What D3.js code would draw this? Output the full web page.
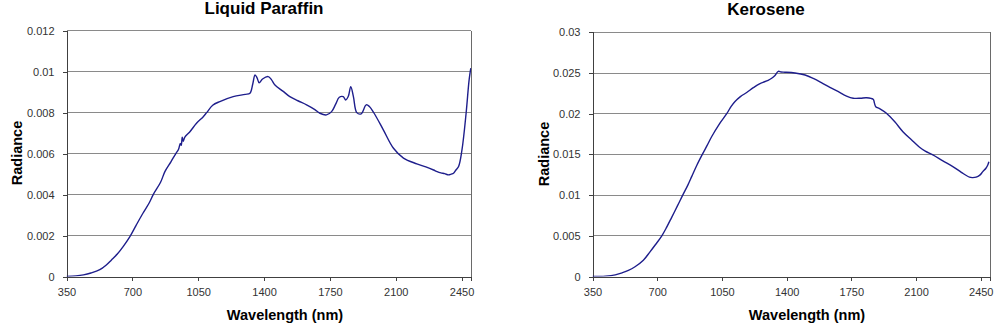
<!DOCTYPE html>
<html>
<head>
<meta charset="utf-8">
<script src="https://cdn.jsdelivr.net/npm/d3@7"></script>
<style>
  html, body { margin: 0; padding: 0; background: #fff; }
  svg { display: block; font-family: Arial, "Liberation Sans", sans-serif; }
</style>
</head>
<body>
<svg id="chart" width="1000" height="327"></svg>
<script>
// ---------- DATA ----------
const xTicks = [350, 700, 1050, 1400, 1750, 2100, 2450];

const paraffinTitle = "Liquid Paraffin";
const paraffinYTicks = [0, 0.002, 0.004, 0.006, 0.008, 0.01, 0.012];
const paraffinWavelength = [350, 400, 440, 480, 527, 560, 589, 620, 650, 687, 720, 757, 790, 811, 850, 873, 905, 931, 945, 955, 960, 965, 970, 979, 1006, 1041, 1077, 1095, 1127, 1165, 1236, 1300, 1325, 1340, 1352, 1363, 1374, 1392, 1422, 1440, 1458, 1500, 1537, 1580, 1626, 1670, 1697, 1732, 1759, 1780, 1800, 1821, 1834, 1848, 1861, 1875, 1893, 1916, 1943, 1960, 1985, 2034, 2088, 2141, 2212, 2260, 2301, 2320, 2340, 2360, 2381, 2395, 2407, 2420, 2434, 2452, 2474, 2490, 2499];
const paraffinRadiance = [0, 0.00003, 0.00008, 0.00017, 0.00033, 0.00055, 0.00081, 0.0011, 0.00145, 0.00195, 0.0025, 0.0031, 0.0036, 0.0040, 0.0046, 0.00512, 0.0056, 0.0060, 0.0062, 0.0065, 0.0064, 0.0068, 0.0066, 0.0068, 0.00707, 0.00748, 0.0078, 0.0080, 0.00836, 0.00854, 0.00878, 0.00889, 0.00895, 0.0094, 0.00984, 0.0097, 0.00946, 0.00964, 0.00976, 0.0096, 0.00935, 0.00905, 0.00878, 0.00858, 0.00838, 0.00815, 0.00797, 0.00789, 0.00805, 0.0084, 0.00875, 0.00878, 0.00862, 0.0088, 0.00927, 0.00878, 0.0080, 0.00794, 0.00838, 0.0083, 0.00797, 0.00716, 0.00626, 0.00578, 0.0055, 0.00535, 0.0052, 0.00512, 0.00506, 0.00502, 0.00496, 0.00500, 0.00504, 0.0052, 0.00537, 0.00618, 0.00797, 0.0096, 0.01017];

const keroseneTitle = "Kerosene";
const keroseneYTicks = [0, 0.005, 0.01, 0.015, 0.02, 0.025, 0.03];
const keroseneWavelength = [350, 420, 473, 510, 544, 580, 625, 660, 690, 725, 750, 779, 810, 838, 865, 887, 915, 944, 970, 995, 1035, 1076, 1100, 1121, 1150, 1184, 1220, 1256, 1300, 1319, 1337, 1355, 1370, 1391, 1445, 1500, 1544, 1590, 1634, 1680, 1724, 1760, 1800, 1832, 1868, 1875, 1882, 1905, 1940, 1985, 2029, 2075, 2119, 2150, 2191, 2245, 2299, 2345, 2389, 2405, 2425, 2445, 2461, 2478, 2488, 2494];
const keroseneRadiance = [0, 0.00005, 0.0002, 0.00045, 0.00074, 0.0012, 0.0020, 0.0030, 0.0039, 0.0050, 0.0060, 0.0073, 0.0087, 0.0100, 0.0112, 0.0123, 0.0137, 0.0150, 0.0161, 0.0172, 0.0187, 0.0200, 0.0209, 0.0215, 0.0221, 0.0226, 0.0232, 0.0237, 0.0241, 0.02435, 0.0247, 0.0252, 0.02512, 0.0251, 0.0250, 0.02475, 0.02434, 0.0238, 0.02324, 0.0227, 0.02217, 0.0219, 0.0219, 0.02196, 0.02177, 0.0213, 0.02086, 0.0206, 0.02005, 0.0190, 0.01779, 0.0168, 0.01588, 0.0154, 0.01493, 0.0142, 0.0135, 0.0128, 0.0122, 0.01215, 0.0122, 0.01245, 0.01288, 0.0133, 0.0137, 0.0141];

const xLabel = "Wavelength (nm)";
const yLabel = "Radiance";

// ---------- DRAW ----------
const svg = d3.select("#chart");

function drawChart(opt) {
  const g = svg.append("g");
  const x = d3.scaleLinear().domain([350, 2500]).range([opt.left, opt.right]);
  const y = d3.scaleLinear().domain([0, opt.yMax]).range([opt.bottom, opt.top]);

  // gridlines
  g.append("g").selectAll("line").data(opt.yTicks.filter(d => d > 0)).join("line")
    .attr("x1", opt.left).attr("x2", opt.right)
    .attr("y1", d => y(d)).attr("y2", d => y(d))
    .attr("stroke", "#8a8a8a").attr("stroke-width", 1).attr("shape-rendering", "crispEdges");

  // right border
  g.append("line").attr("x1", opt.right).attr("x2", opt.right)
    .attr("y1", opt.top).attr("y2", opt.bottom)
    .attr("stroke", "#6a6a6a").attr("shape-rendering", "crispEdges");

  // x axis
  const xa = g.append("g").attr("transform", `translate(0,${opt.bottom})`)
    .call(d3.axisBottom(x).tickValues(xTicks).tickSize(4).tickPadding(8).tickFormat(d3.format("d")));
  // y axis
  const ya = g.append("g").attr("transform", `translate(${opt.left},0)`)
    .call(d3.axisLeft(y).tickValues(opt.yTicks).tickSize(4).tickPadding(8).tickFormat(d => d === 0 ? "0" : String(+d.toFixed(4))));
  [xa, ya].forEach(a => {
    a.select(".domain").attr("stroke", "#404040").attr("shape-rendering", "crispEdges");
    a.selectAll(".tick line").attr("stroke", "#404040").attr("shape-rendering", "crispEdges");
    a.selectAll("text").attr("fill", "#333").attr("font-size", "11px").attr("font-family", "Arial, 'Liberation Sans', sans-serif");
  });

  // clip
  const clipId = "clip-" + opt.id;
  svg.append("clipPath").attr("id", clipId).append("rect")
    .attr("x", opt.left).attr("y", opt.top - 2).attr("width", opt.right - opt.left).attr("height", opt.bottom - opt.top + 2);

  const data = opt.wl.map((w, i) => [w, opt.val[i]]);
  const line = d3.line().x(d => x(d[0])).y(d => y(d[1])).curve(d3.curveCatmullRom.alpha(0.5));
  g.append("path").datum(data)
    .attr("clip-path", `url(#${clipId})`)
    .attr("fill", "none").attr("stroke", "#1e1e8c").attr("stroke-width", 1.4)
    .attr("stroke-linejoin", "round")
    .attr("d", line);

  // title
  g.append("text").attr("x", opt.titleX).attr("y", opt.titleY)
    .attr("text-anchor", "middle").attr("font-weight", "bold").attr("font-size", "17px")
    .attr("fill", "#000").text(opt.title);
  // x label
  g.append("text").attr("x", opt.xLabelX).attr("y", 320)
    .attr("text-anchor", "middle").attr("font-weight", "bold").attr("font-size", "14.5px")
    .attr("fill", "#000").text(xLabel);
  // y label
  g.append("text").attr("transform", `translate(${opt.yLabelX},${opt.yLabelY}) rotate(-90)`)
    .attr("text-anchor", "middle").attr("font-weight", "bold").attr("font-size", "14.5px")
    .attr("fill", "#000").text(yLabel);
}

drawChart({
  id: "paraffin", left: 66.5, right: 471, top: 30.7, bottom: 276.5, yMax: 0.012,
  yTicks: paraffinYTicks, wl: paraffinWavelength, val: paraffinRadiance,
  title: paraffinTitle, titleX: 264, titleY: 14,
  xLabelX: 285, yLabelX: 22, yLabelY: 153
});
drawChart({
  id: "kerosene", left: 592.5, right: 990, top: 32.3, bottom: 276.5, yMax: 0.03,
  yTicks: keroseneYTicks, wl: keroseneWavelength, val: keroseneRadiance,
  title: keroseneTitle, titleX: 766, titleY: 15,
  xLabelX: 807, yLabelX: 549, yLabelY: 154
});
</script>
</body>
</html>
